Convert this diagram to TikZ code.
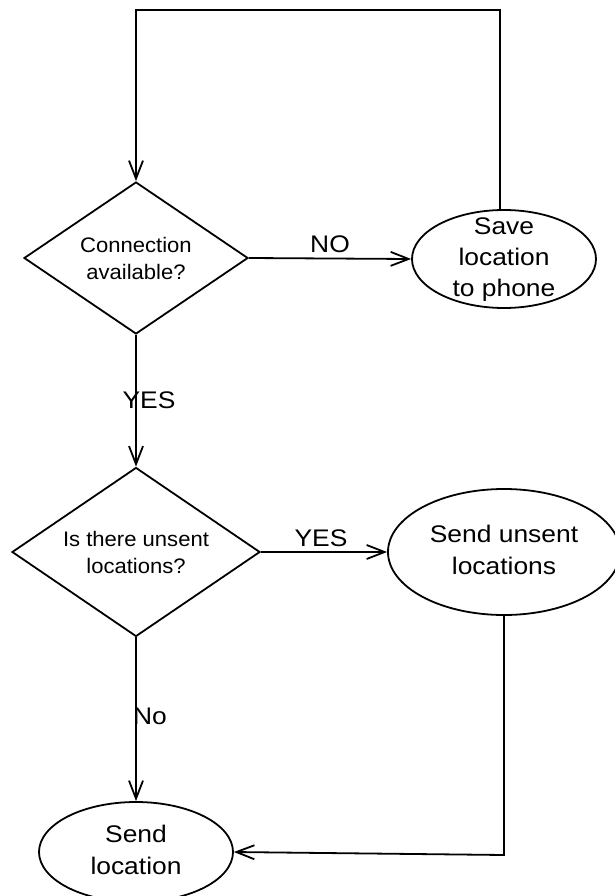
\documentclass[tikz,border=0pt]{standalone}
\usepackage{fontspec}
\setmainfont{Liberation Sans}
\newfontfamily\widesans[FakeStretch=1.1]{Liberation Sans}
\newfontfamily\midsans[FakeStretch=1.05]{Liberation Sans}
\usetikzlibrary{shapes.geometric,arrows.meta}

\tikzset{
  line/.style={line width=1.8pt, draw=black},
  arr/.style={line, -{Straight Barb[length=18pt,width=14pt,line width=1.8pt]}},
  decision/.style={diamond, line, inner sep=0pt},
  oval/.style={ellipse, line, inner sep=0pt},
  smalltxt/.style={align=center, font=\midsans\fontsize{21}{27}\selectfont},
  bigtxt/.style={align=center, font=\widesans\fontsize{24}{32}\selectfont},
  edgelbl/.style={font=\widesans\fontsize{24}{28}\selectfont, inner sep=0pt}
}

\begin{document}
\begin{tikzpicture}[x=1pt, y=-1pt]
  \useasboundingbox (0,0) rectangle (614,896);

  % decisions
  \node[decision, minimum width=224pt, minimum height=152pt] (conn) at (136,258) {};
  \node[smalltxt] (conntxt) at (136,258) {Connection\\available?};

  \node[decision, minimum width=248pt, minimum height=169pt] (unsent) at (136,552) {};
  \node[smalltxt] (unsenttxt) at (136,552) {Is there unsent\\locations?};

  % actions
  \node[oval, minimum width=184pt, minimum height=98pt] (save) at (504,259) {};
  \node[bigtxt, font=\widesans\fontsize{24}{31}\selectfont] (savetxt) at (504,260) {Save\\location\\to phone};

  \node[oval, minimum width=232pt, minimum height=126pt] (sendall) at (504,552) {};
  \node[bigtxt] (sendalltxt) at (504,550) {Send unsent\\locations};

  \node[oval, minimum width=194pt, minimum height=100pt] (send) at (136,852) {};
  \node[bigtxt] (sendtxt) at (136,850) {Send\\location};

  % routing points
  \coordinate (loopL) at (136,10);
  \coordinate (turn) at (504,855);

  % connectors
  \draw[arr] (conn.east) -- (save.west);
  \draw[arr] ([xshift=-4pt]save.north) |- (loopL) -- (conn.north);
  \draw[arr] (conn.south) -- (unsent.north);
  \draw[arr] (unsent.east) -- (sendall.west);
  \draw[arr] (unsent.south) -- (send.north);
  \draw[arr] (sendall.south) -- (turn) -- (send.east);

  % connector labels
  \node[edgelbl] (lblNo1) at (330,244) {NO};
  \node[edgelbl] (lblYes1) at (149,400) {YES};
  \node[edgelbl] (lblYes2) at (321,538) {YES};
  \node[edgelbl] (lblNo2) at (150,716) {No};
\end{tikzpicture}
\end{document}
